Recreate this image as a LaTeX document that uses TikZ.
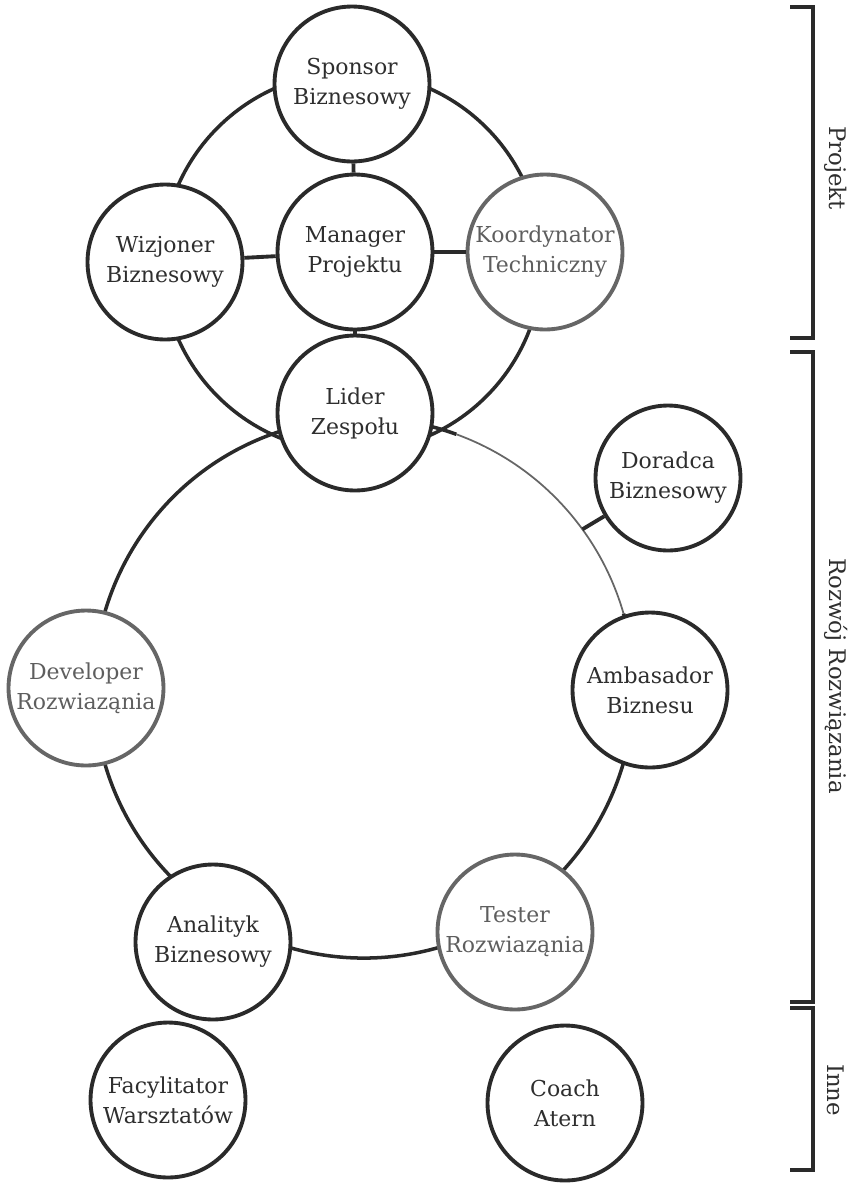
\documentclass[tikz,border=0pt]{standalone}
\usepackage{fontspec}
\setmainfont{DejaVu Serif}
\usepackage{tikz}
\usetikzlibrary{calc}
\definecolor{inkDark}{HTML}{2A2A2A}
\definecolor{inkGrey}{HTML}{666666}
\definecolor{txtDark}{HTML}{2E2E2E}
\definecolor{txtGrey}{HTML}{5E5E5E}
\tikzset{
  rolenode/.style={draw=inkDark, circle, line width=2.2pt, fill=white,
                   minimum size=3.1cm, inner sep=0pt, align=center,
                   font=\fontsize{12.5}{17}\selectfont, text=txtDark},
  rolegrey/.style={rolenode, draw=inkGrey, text=txtGrey},
  ringline/.style={draw=inkDark, line width=2pt},
  fadeline/.style={draw=inkGrey, line width=1pt},
  linkline/.style={draw=inkDark, line width=2.2pt},
  bracketline/.style={draw=inkDark, line width=1.8pt},
  grouplabel/.style={rotate=-90, font=\fontsize{13}{15}\selectfont, text=txtDark},
}

\begin{document}
\begin{tikzpicture}[x=0.02cm, y=-0.02cm]
\useasboundingbox (0,0) rectangle (851,1184);
%% Rings
\coordinate (topring) at (352,262);
\coordinate (lowring) at (364,688);
\draw[ringline] (topring) circle[radius=190];
\draw[ringline] ($(lowring)+(-16:270)$) arc[start angle=-16, end angle=290, radius=270];
\draw[fadeline] ($(lowring)+(-70:270)$) arc[start angle=-70, end angle=-16, radius=270];
%% Nodes
\node[rolenode] (sponsor) at (352,84) {Sponsor\\Biznesowy};
\node[rolenode] (wizjoner) at (165,262) {Wizjoner\\Biznesowy};
\node[rolenode] (manager) at (355,252) {Manager\\Projektu};
\node[rolegrey] (koord) at (545,252) {Koordynator\\Techniczny};
\node[rolenode] (lider) at (355,413) {Lider\\Zespołu};
\node[rolenode, minimum size=2.9cm] (doradca) at (668,478) {Doradca\\Biznesowy};
\node[rolegrey] (developer) at (86,688) {Developer\\Rozwiaząnia};
\node[rolenode] (ambasador) at (650,690) {Ambasador\\Biznesu};
\node[rolenode] (analityk) at (213,942) {Analityk\\Biznesowy};
\node[rolegrey] (tester) at (515,932) {Tester\\Rozwiaząnia};
\node[rolenode] (facylitator) at (168,1100) {Facylitator\\Warsztatów};
\node[rolenode] (coach) at (565,1103) {Coach\\Atern};
%% Edges
\draw[linkline] (sponsor) -- (manager);
\draw[linkline] (wizjoner) -- (manager);
\draw[linkline] (manager) -- (koord);
\draw[linkline] (manager) -- (lider);
\coordinate (ringpt) at ($(lowring)+(-36:270)$);
\draw[linkline] (doradca) -- (ringpt);
%% Groups on the right
\draw[bracketline] (790,7) -- (813,7) -- (813,338) -- (790,338);
\draw[bracketline] (790,352) -- (813,352) -- (813,1002) -- (790,1002);
\draw[bracketline] (790,1008) -- (813,1008) -- (813,1170) -- (790,1170);
\node[grouplabel] (lblprojekt) at (836,168) {Projekt};
\node[grouplabel] (lblrozwoj) at (836,676) {Rozwój Rozwiązania};
\node[grouplabel] (lblinne) at (836,1090) {Inne};
\end{tikzpicture}
\end{document}
